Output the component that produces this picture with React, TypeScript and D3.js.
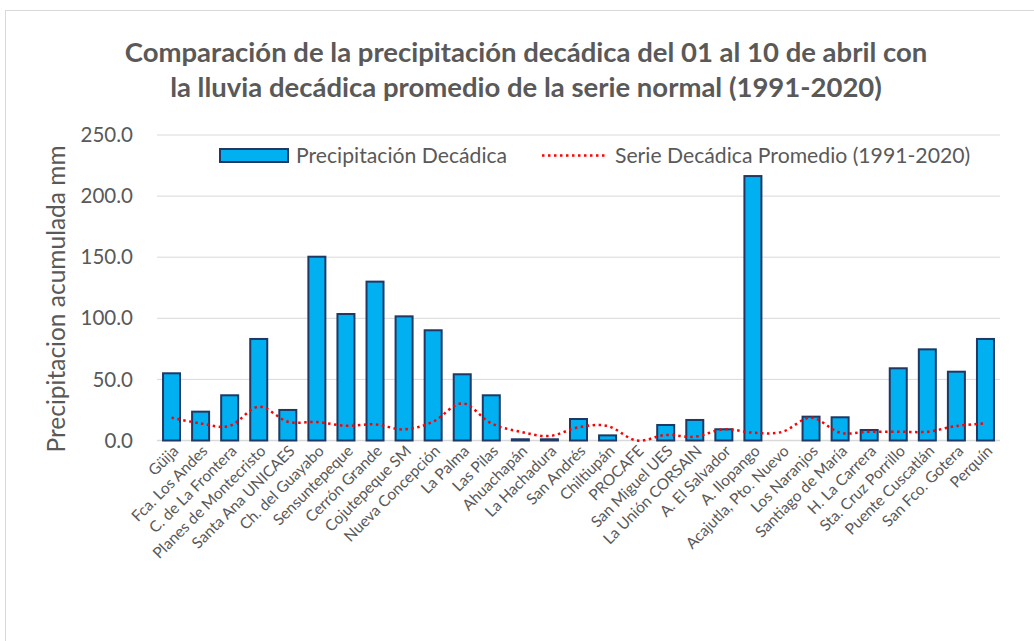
import { useEffect, useRef } from "react";
import * as d3 from "d3";

const estaciones = [
  "Güija", "Fca. Los Andes", "C. de La Frontera", "Planes de Montecristo", "Santa Ana UNICAES",
  "Ch. del Guayabo", "Sensuntepeque", "Cerrón Grande", "Cojutepeque SM", "Nueva Concepción",
  "La Palma", "Las Pilas", "Ahuachapán", "La Hachadura", "San Andrés", "Chiltiupán", "PROCAFE",
  "San Miguel UES", "La Unión CORSAIN", "A. El Salvador", "A. Ilopango", "Acajutla, Pto. Nuevo",
  "Los Naranjos", "Santiago de María", "H. La Carrera", "Sta. Cruz Porrillo", "Puente Cuscatlán",
  "San Fco. Gotera", "Perquín",
];

// Precipitación decádica (mm)
const decadica = [
  55.0, 23.6, 37.0, 83.1, 25.0, 150.4, 103.5, 130.0, 101.6, 90.2,
  54.2, 37.0, 1.0, 1.0, 17.6, 4.2, 0.0, 12.7, 16.8, 9.2,
  216.4, 0.0, 19.5, 19.0, 8.6, 59.1, 74.6, 56.3, 83.1,
];

// Serie decádica promedio 1991-2020 (mm)
const promedio = [
  18.7, 14.0, 11.9, 27.7, 15.4, 15.1, 12.1, 13.2, 9.1, 15.4,
  30.4, 14.0, 7.2, 3.7, 10.8, 11.9, 0.0, 4.5, 3.1, 9.2,
  6.4, 7.0, 18.7, 6.4, 7.2, 7.2, 7.2, 11.9, 14.0,
];

const yTicks = [0, 50, 100, 150, 200, 250];

const tituloLineas = [
  "Comparación de la precipitación decádica del 01 al 10 de abril con",
  "la lluvia decádica promedio de la serie normal (1991-2020)",
];

export default function App() {
  const ref = useRef<SVGSVGElement>(null);

  useEffect(() => {
    const width = 1034;
    const height = 641;
    const font = "Lato, 'Open Sans', sans-serif";
    const gris = "#595959";

    const svg = d3.select(ref.current)
      .attr("width", width)
      .attr("height", height);

    svg.selectAll("*").remove();

    // marco del gráfico
    svg.append("rect")
      .attr("x", 5.5).attr("y", 10.5)
      .attr("width", 1100).attr("height", 800)
      .attr("fill", "#fff")
      .attr("stroke", "#d9d9d9");

    const x = d3.scaleBand()
      .domain(estaciones)
      .range([157, 1000])
      .paddingInner(0.415)
      .paddingOuter(0.2075);

    const y = d3.scaleLinear()
      .domain([0, 250])
      .range([440.5, 135]);

    // titulo
    svg.append("g")
      .selectAll("text")
      .data(tituloLineas)
      .join("text")
      .attr("x", 526)
      .attr("y", (_, i) => 62 + i * 35)
      .attr("text-anchor", "middle")
      .attr("font-family", font)
      .attr("font-weight", "bold")
      .attr("font-size", 27.5)
      .attr("fill", gris)
      .text(d => d);

    // rejilla
    svg.append("g")
      .selectAll("line")
      .data(yTicks)
      .join("line")
      .attr("x1", 157).attr("x2", 1000)
      .attr("y1", d => y(d)).attr("y2", d => y(d))
      .attr("stroke", "#d9d9d9")
      .attr("stroke-width", d => d === 0 ? 1.5 : 1);

    // etiquetas eje y
    svg.append("g")
      .selectAll("text")
      .data(yTicks)
      .join("text")
      .attr("x", 133)
      .attr("y", d => y(d))
      .attr("dy", "0.35em")
      .attr("text-anchor", "end")
      .attr("font-family", font)
      .attr("font-size", 20.5)
      .attr("fill", gris)
      .text(d => d.toFixed(1));

    svg.append("text")
      .attr("transform", "translate(65,299) rotate(-90)")
      .attr("text-anchor", "middle")
      .attr("font-family", font)
      .attr("font-size", 24.5)
      .attr("fill", gris)
      .text("Precipitacion acumulada mm");

    // barras
    svg.append("g")
      .selectAll("rect")
      .data(decadica)
      .join("rect")
      .attr("x", (_, i) => x(estaciones[i])!)
      .attr("width", x.bandwidth())
      .attr("y", d => y(d))
      .attr("height", d => y(0) - y(d))
      .attr("fill", "#00b0f0")
      .attr("stroke", "#1f3864")
      .attr("stroke-width", 2);

    // serie promedio
    const line = d3.line<number>()
      .x((_, i) => x(estaciones[i])! + x.bandwidth() / 2)
      .y(d => y(d))
      .curve(d3.curveCardinal.tension(0));

    svg.append("path")
      .datum(promedio)
      .attr("d", line)
      .attr("fill", "none")
      .attr("stroke", "#ff0000")
      .attr("stroke-width", 2.5)
      .attr("stroke-dasharray", "2.5,3.5");

    // etiquetas eje x
    svg.append("g")
      .selectAll("text")
      .data(estaciones)
      .join("text")
      .attr("transform", d => `translate(${x(d)! + x.bandwidth() / 2 + 8},${452}) rotate(-45)`)
      .attr("text-anchor", "end")
      .attr("font-family", font)
      .attr("font-size", 15.5)
      .attr("fill", gris)
      .text(d => d);

    // leyenda
    const leg = svg.append("g");
    leg.append("rect")
      .attr("x", 220).attr("y", 149)
      .attr("width", 68).attr("height", 13)
      .attr("fill", "#00b0f0")
      .attr("stroke", "#1f3864")
      .attr("stroke-width", 2);
    leg.append("text")
      .attr("x", 296).attr("y", 156)
      .attr("dy", "0.35em")
      .attr("font-family", font)
      .attr("font-size", 21.2)
      .attr("fill", gris)
      .text("Precipitación Decádica");
    leg.append("line")
      .attr("x1", 542).attr("x2", 606)
      .attr("y1", 155.5).attr("y2", 155.5)
      .attr("stroke", "#ff0000")
      .attr("stroke-width", 2.5)
      .attr("stroke-dasharray", "2.5,3.5");
    leg.append("text")
      .attr("x", 615).attr("y", 156)
      .attr("dy", "0.35em")
      .attr("font-family", font)
      .attr("font-size", 21.2)
      .attr("fill", gris)
      .text("Serie Decádica Promedio (1991-2020)");
  }, []);

  return <svg ref={ref} style={{ position: "absolute", left: 0, top: 0, display: "block" }}></svg>;
}
